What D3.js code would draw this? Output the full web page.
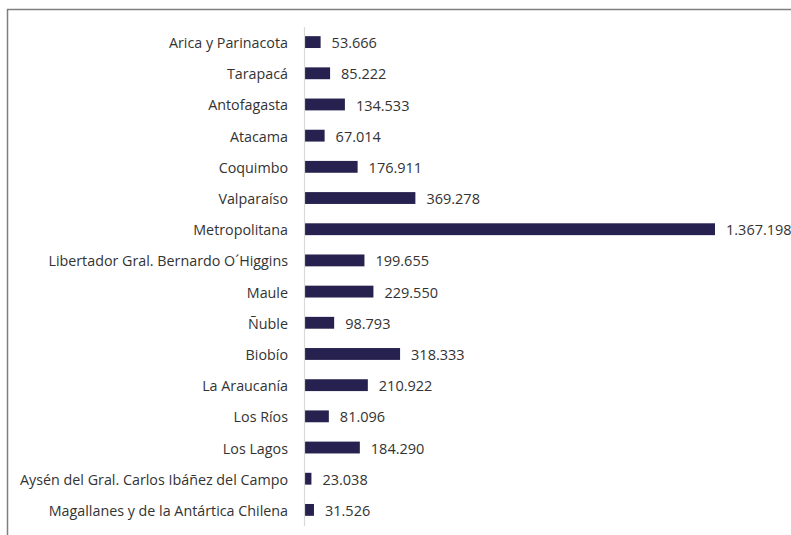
<!DOCTYPE html>
<html>
<head>
<meta charset="utf-8">
<script src="https://cdn.jsdelivr.net/npm/d3@7"></script>
<style>
  html, body { margin:0; padding:0; background:#fff; }
  #chart { width:791px; height:535px; }
</style>
</head>
<body>
<div id="chart"></div>
<script>
// Población por región

const regiones = [
  "Arica y Parinacota", "Tarapacá", "Antofagasta", "Atacama", "Coquimbo",
  "Valparaíso", "Metropolitana", "Libertador Gral. Bernardo O´Higgins", "Maule",
  "Ñuble", "Biobío", "La Araucanía", "Los Ríos", "Los Lagos",
  "Aysén del Gral. Carlos Ibáñez del Campo", "Magallanes y de la Antártica Chilena"
];
const valores = [
  53666, 85222, 134533, 67014, 176911, 369278, 1367198, 199655, 229550,
  98793, 318333, 210922, 81096, 184290, 23038, 31526
];

const data = regiones.map((r, i) => ({region: r, valor: valores[i]}));

const width = 791, height = 535;
const margin = {top: 26.5, right: 76, bottom: 9.5, left: 304.5};
const FONT = "'Open Sans', sans-serif";

const svg = d3.select("#chart").append("svg")
  .attr("width", width).attr("height", height);

// marco
svg.append("path")
  .attr("d", `M7.5,${height} V9.5 H${width}`)
  .attr("fill", "none").attr("stroke", "#7f7f7f").attr("stroke-width", 1.5);

const x = d3.scaleLinear()
  .domain([0, d3.max(valores)])
  .range([margin.left, width - margin.right]);

const y = d3.scaleBand()
  .domain(regiones)
  .range([margin.top, height - margin.bottom])
  .paddingInner(0.62).paddingOuter(0.31);

const fmt = d3.formatLocale({decimal: ",", thousands: ".", grouping: [3], currency: ["$", ""]}).format(",d");

// Barras
svg.append("g").selectAll("rect")
  .data(data).join("rect")
    .attr("x", x(0))
    .attr("y", d => y(d.region))
    .attr("width", d => x(d.valor) - x(0))
    .attr("height", y.bandwidth())
    .attr("fill", "#27214f");

// Eje Y
svg.append("g")
  .attr("transform", `translate(${margin.left - 0.5},0)`)
  .call(d3.axisLeft(y).tickSize(0).tickPadding(16))
  .call(g => g.select(".domain").attr("stroke", "#d9d9d9").attr("stroke-width", 1.2))
  .call(g => g.selectAll("text")
    .attr("dy", "0.42em")
    .attr("font-family", FONT).attr("font-size", 14.3).attr("fill", "#333"));

// Etiquetas de valor
svg.append("g").selectAll("text")
  .data(data).join("text")
    .attr("x", d => x(d.valor) + 11)
    .attr("y", d => y(d.region) + y.bandwidth() / 2)
    .attr("dy", "0.42em")
    .attr("font-family", FONT)
    .attr("font-size", 14.5)
    .attr("fill", "#333")
    .text(d => fmt(d.valor));
</script>
</body>
</html>
